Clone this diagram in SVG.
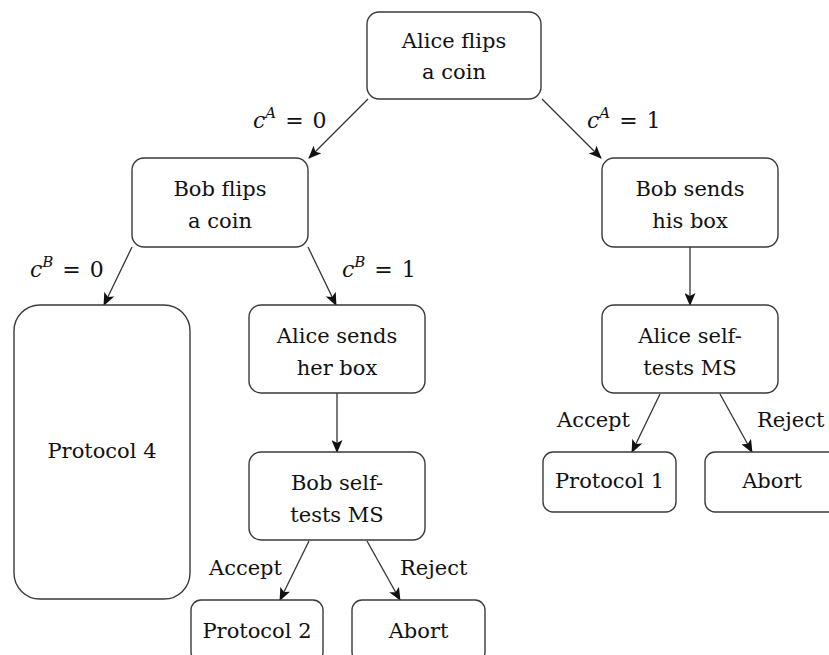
<svg xmlns="http://www.w3.org/2000/svg" width="829" height="655" viewBox="0 0 829 655">
<style>
.box{fill:#fff;stroke:#3a3a3a;stroke-width:1.4}
text{font-family:"DejaVu Serif",serif;font-size:21px;fill:#111}
.t{text-anchor:middle}
.e{stroke:#333;stroke-width:1.3;fill:none;marker-end:url(#ah)}
.m{font-style:italic;font-size:22px}
.s{font-style:italic;font-size:15px}
.q{font-size:22px;word-spacing:2px}
</style>
<defs>
<marker id="ah" viewBox="0 0 13 11" refX="12" refY="5.5" markerWidth="13" markerHeight="11" markerUnits="userSpaceOnUse" orient="auto">
<path d="M0,0 L13,5.5 L0,11 L3,5.5 Z" fill="#111"/>
</marker>
</defs>
<g id="connectors">
<line class="e" x1="368" y1="99" x2="309" y2="158"/>
<line class="e" x1="542" y1="99" x2="601" y2="158"/>
<line class="e" x1="132" y1="247" x2="104" y2="305"/>
<line class="e" x1="308" y1="247" x2="336" y2="305"/>
<line class="e" x1="337" y1="393" x2="337" y2="452"/>
<line class="e" x1="690" y1="247" x2="690" y2="305"/>
<line class="e" x1="309" y1="541" x2="280" y2="600"/>
<line class="e" x1="367" y1="541" x2="400" y2="600"/>
<line class="e" x1="660" y1="394" x2="632" y2="452"/>
<line class="e" x1="720" y1="394" x2="752" y2="452"/>
</g>
<g id="alice-flips"><rect class="box" x="367" y="12" width="174" height="87" rx="12"/><text class="t" x="454" y="48">Alice flips</text><text class="t" x="454" y="79">a coin</text></g>
<g id="bob-flips"><rect class="box" x="132" y="158" width="176" height="89" rx="12"/><text class="t" x="220" y="196">Bob flips</text><text class="t" x="220" y="228">a coin</text></g>
<g id="bob-sends"><rect class="box" x="602" y="158" width="176" height="89" rx="12"/><text class="t" x="690" y="196">Bob sends</text><text class="t" x="690" y="228">his box</text></g>
<g id="protocol4"><rect class="box" x="14" y="305" width="176" height="294" rx="26"/><text class="t" x="102" y="458">Protocol 4</text></g>
<g id="alice-sends"><rect class="box" x="249" y="305" width="176" height="88" rx="12"/><text class="t" x="337" y="343">Alice sends</text><text class="t" x="337" y="375">her box</text></g>
<g id="alice-selftests"><rect class="box" x="602" y="305" width="176" height="88" rx="12"/><text class="t" x="690" y="343">Alice self-</text><text class="t" x="690" y="375">tests MS</text></g>
<g id="bob-selftests"><rect class="box" x="249" y="452" width="176" height="88" rx="12"/><text class="t" x="337" y="490">Bob self-</text><text class="t" x="337" y="522">tests MS</text></g>
<g id="protocol1"><rect class="box" x="543" y="452" width="133" height="60" rx="10"/><text class="t" x="609.5" y="488">Protocol 1</text></g>
<g id="abort-right"><rect class="box" x="705" y="452" width="140" height="60" rx="10"/><text class="t" x="772" y="488">Abort</text></g>
<g id="protocol2"><rect class="box" x="191" y="600" width="132" height="62" rx="10"/><text class="t" x="257" y="638">Protocol 2</text></g>
<g id="abort-left"><rect class="box" x="352" y="600" width="133" height="62" rx="10"/><text class="t" x="418.5" y="638">Abort</text></g>
<g id="labels">
<text x="253" y="128"><tspan class="m">c</tspan><tspan class="s" dy="-10">A</tspan><tspan class="q" dy="10"> = 0</tspan></text>
<text x="587" y="128"><tspan class="m">c</tspan><tspan class="s" dy="-10">A</tspan><tspan class="q" dy="10"> = 1</tspan></text>
<text x="30" y="277"><tspan class="m">c</tspan><tspan class="s" dy="-10">B</tspan><tspan class="q" dy="10"> = 0</tspan></text>
<text x="342" y="277"><tspan class="m">c</tspan><tspan class="s" dy="-10">B</tspan><tspan class="q" dy="10"> = 1</tspan></text>
<text x="209" y="575">Accept</text>
<text x="400" y="575">Reject</text>
<text x="557" y="427">Accept</text>
<text x="757" y="427">Reject</text>
</g>
</svg>
